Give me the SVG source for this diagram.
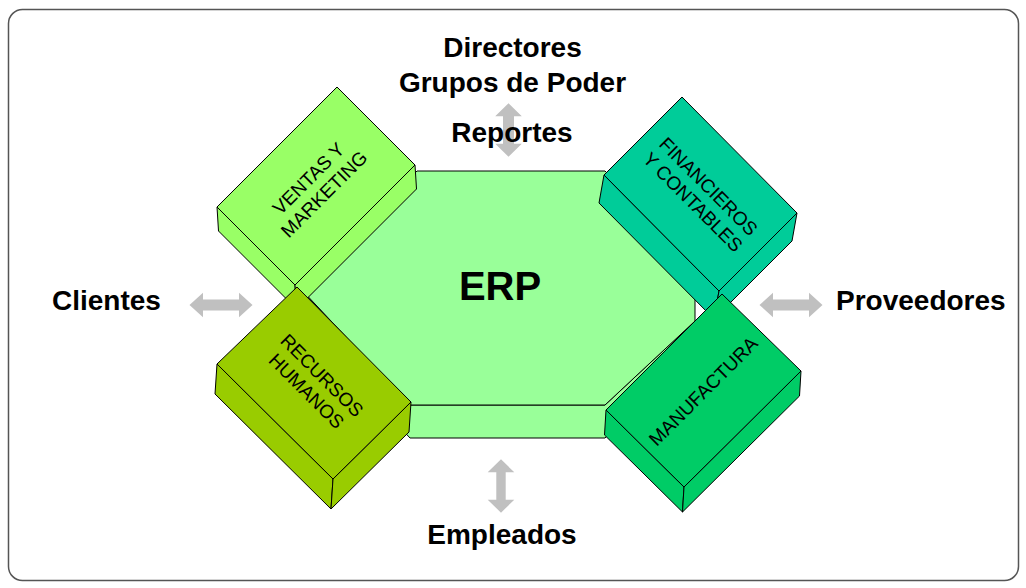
<svg xmlns="http://www.w3.org/2000/svg" width="1026" height="588" viewBox="0 0 1026 588">
<style>
.face{stroke:#000;stroke-width:1;stroke-linejoin:round}
.lbl{font-family:"Liberation Sans",Arial,sans-serif;font-size:19px;fill:#000;text-anchor:middle}
.big{font-family:"Liberation Sans",Arial,sans-serif;font-weight:bold;font-size:28px;fill:#000}
.arrow{fill:#C0C0C0;stroke:none}
</style>
<rect x="8.5" y="9.5" width="1010" height="571" rx="14" ry="14" fill="#fff" stroke="#555" stroke-width="1.5"/>

<g id="erp">
  <polygon class="face" fill="#99FF99" points="300,288 410,405 605,405 695,321 695,354 605,438 410,438 300,321"/>
  <polygon class="face" fill="#99FF99" points="417,171 605,171 695,261 695,321 605,405 410,405 300,288"/>
  <text class="big" x="500" y="300" text-anchor="middle" style="font-size:40px">ERP</text>
</g>

<g id="ventas">
  <polygon class="face" fill="#99FF66" points="217,207 295,285 296.5,309 218.5,231"/>
  <polygon class="face" fill="#99FF66" points="295,285 415,165 416.5,189 296.5,309"/>
  <polygon class="face" fill="#99FF66" points="337,87 415,165 295,285 217,207"/>
  <text class="lbl" transform="translate(316,186) rotate(-45)"><tspan x="0" y="-4">VENTAS Y</tspan><tspan x="0" y="18">MARKETING</tspan></text>
</g>

<g id="financieros">
  <polygon class="face" fill="#00CC99" points="604,175 719,291 714,319 599,203"/>
  <polygon class="face" fill="#00CC99" points="719,291 797,213 792,241 714,319"/>
  <polygon class="face" fill="#00CC99" points="682,97 797,213 719,291 604,175"/>
  <text class="lbl" transform="translate(701,194) rotate(45)"><tspan x="0" y="-4">FINANCIEROS</tspan><tspan x="0" y="18">Y CONTABLES</tspan></text>
</g>

<g id="recursos">
  <polygon class="face" fill="#99CC00" points="217,364 333,479 331,509 215,394"/>
  <polygon class="face" fill="#99CC00" points="333,479 411,402 409,432 331,509"/>
  <polygon class="face" fill="#99CC00" points="297,287 411,402 333,479 217,364"/>
  <text class="lbl" transform="translate(314.5,383) rotate(45)"><tspan x="0" y="-4">RECURSOS</tspan><tspan x="0" y="18">HUMANOS</tspan></text>
</g>

<g id="manufactura">
  <polygon class="face" fill="#00CC66" points="606,410 684,487 682.5,512 604.5,435"/>
  <polygon class="face" fill="#00CC66" points="684,487 801,371 799.5,396 682.5,512"/>
  <polygon class="face" fill="#00CC66" points="722,294 801,371 684,487 606,410"/>
  <text class="lbl" transform="translate(703,391) rotate(-45)"><tspan x="0" y="7">MANUFACTURA</tspan></text>
</g>

<g id="connectors">
  <polygon class="arrow" points="189.5,305 203,292.7 203,299.5 239,299.5 239,292.7 252.5,305 239,317.3 239,310.5 203,310.5 203,317.3"/>
  <polygon class="arrow" points="759.5,305 773,292.7 773,299.5 809,299.5 809,292.7 822.5,305 809,317.3 809,310.5 773,310.5 773,317.3"/>
  <polygon class="arrow" points="508.5,103.3 521.8,116.3 514,116.3 514,143.7 521.8,143.7 508.5,156.7 495.2,143.7 503,143.7 503,116.3 495.2,116.3"/>
  <polygon class="arrow" points="501,459.3 514.3,472.3 505.7,472.3 505.7,499.7 514.3,499.7 501,512.7 487.7,499.7 496.3,499.7 496.3,472.3 487.7,472.3"/>
</g>

<g id="labels">
  <text class="big" x="512.5" y="57.3" text-anchor="middle">Directores</text>
  <text class="big" x="512.5" y="91.7" text-anchor="middle">Grupos de Poder</text>
  <text class="big" x="512" y="141.7" text-anchor="middle">Reportes</text>
  <text class="big" x="502" y="544.3" text-anchor="middle">Empleados</text>
  <text class="big" x="52" y="310">Clientes</text>
  <text class="big" x="836" y="310">Proveedores</text>
</g>
</svg>
